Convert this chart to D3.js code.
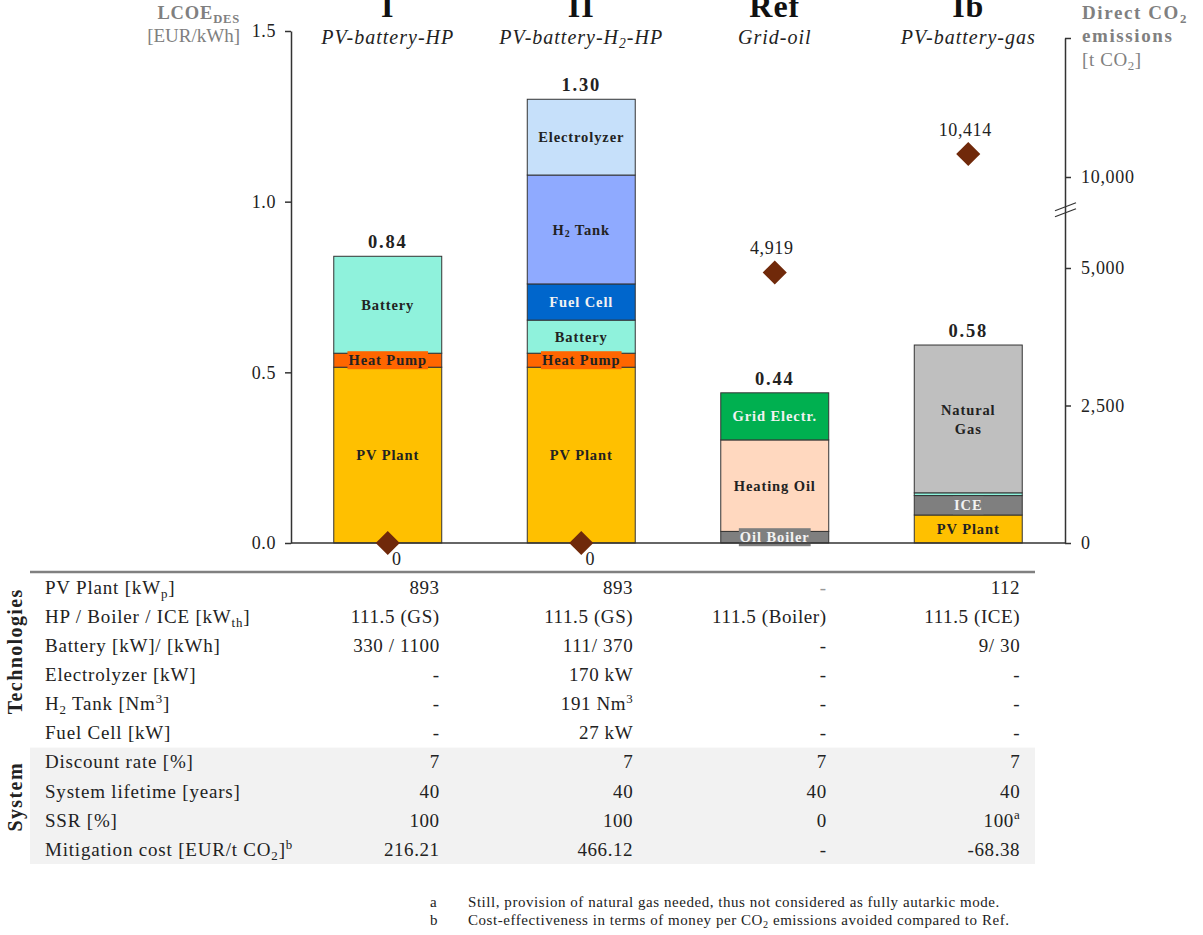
<!DOCTYPE html>
<html>
<head>
<meta charset="utf-8">
<script src="https://cdn.jsdelivr.net/npm/d3@7"></script>
<style>
  html, body { margin: 0; padding: 0; background: #fff; }
  svg { display: block; font-family: "Liberation Serif", "DejaVu Serif", serif; }
</style>
</head>
<body>
<svg id="chart" width="1203" height="935"></svg>
<script>
// ---- Scenarios ----
const scenarios = ["I", "II", "Ref", "Ib"];
const subtitles = ["PV-battery-HP", "PV-battery-H_{2}-HP", "Grid-oil", "PV-battery-gas"];

// ---- LCOE contributions per component [EUR/kWh], one value per scenario ----
const pvPlant      = [0.515, 0.515, 0,     0.082];
const oilBoiler    = [0,     0,     0.034, 0    ];
const heatPump     = [0.041, 0.041, 0,     0    ];
const ice          = [0,     0,     0,     0.057];
const battery      = [0.284, 0.097, 0,     0.008];
const heatingOil   = [0,     0,     0.268, 0    ];
const fuelCell     = [0,     0.106, 0,     0    ];
const h2Tank       = [0,     0.319, 0,     0    ];
const gridElectr   = [0,     0,     0.138, 0    ];
const naturalGas   = [0,     0,     0,     0.433];
const electrolyzer = [0,     0.222, 0,     0    ];

// ---- Direct CO2 emissions [t CO2] ----
const emissions = [0, 0, 4919, 10414];

// ---- Axis ticks ----
const lcoeTicks = [0, 0.5, 1.0, 1.5];
const co2Ticks = [0, 2500, 5000, 10000, 12500];

// ---- Table ----
const rowLabels = [
  "PV Plant [kW_{p}]",
  "HP / Boiler / ICE [kW_{th}]",
  "Battery [kW]/ [kWh]",
  "Electrolyzer [kW]",
  "H_{2} Tank [Nm^{3}]",
  "Fuel Cell [kW]",
  "Discount rate [%]",
  "System lifetime [years]",
  "SSR [%]",
  "Mitigation cost [EUR/t CO_{2}]^{b}"
];
const colI   = ["893", "111.5 (GS)", "330 / 1100", "-", "-", "-", "7", "40", "100", "216.21"];
const colII  = ["893", "111.5 (GS)", "111/ 370", "170 kW", "191 Nm^{3}", "27 kW", "7", "40", "100", "466.12"];
const colRef = ["-", "111.5 (Boiler)", "-", "-", "-", "-", "7", "40", "0", "-"];
const colIb  = ["112", "111.5 (ICE)", "9/ 30", "-", "-", "-", "7", "40", "100^{a}", "-68.38"];
const groups = [
  { name: "Technologies", from: 0, to: 5 },
  { name: "System", from: 6, to: 9 }
];
const footnotes = [
  ["a", "Still, provision of natural gas needed, thus not considered as fully autarkic mode."],
  ["b", "Cost-effectiveness in terms of money per CO_{2} emissions avoided compared to Ref."]
];

// ---- Build stack input ----
const componentKeys = ["PV Plant", "Oil Boiler", "Heat Pump", "ICE", "Battery", "Heating Oil",
                       "Fuel Cell", "H_{2} Tank", "Grid Electr.", "Natural Gas", "Electrolyzer"];
const componentValues = [pvPlant, oilBoiler, heatPump, ice, battery, heatingOil,
                         fuelCell, h2Tank, gridElectr, naturalGas, electrolyzer];
const rows = scenarios.map((s, i) => {
  const r = { scenario: s };
  componentKeys.forEach((k, j) => r[k] = componentValues[j][i]);
  return r;
});

const fill = d3.scaleOrdinal()
  .domain(componentKeys)
  .range(["#ffc000", "#7f7f7f", "#ff6600", "#7f7f7f", "#8ff2dc", "#ffd8bf",
          "#0066cc", "#8faaff", "#00b050", "#bfbfbf", "#c6e0fa"]);
const lightText = new Set(["Oil Boiler", "ICE", "Fuel Cell", "Grid Electr."]);

// ---- Layout ----
const svg = d3.select("#chart");
const xLeft = 291, xRight = 1065;
const x = d3.scaleBand().domain(scenarios).range([xLeft, xRight]).paddingInner(0.442).paddingOuter(0.221);
const y = d3.scaleLinear().domain([0, 1.5]).range([543, 31]);
// Broken right axis: compressed between 5,000 and 10,000
const ey = d3.scaleLinear().domain([0, 5000, 10000, 12500]).range([543, 268, 177, 38]);

const ink = "#333";
const grey = "#808080";

// Rich text helper: _{..} subscript, ^{..} superscript
function rich(sel, str, fs) {
  const parts = str.split(/(_\{[^}]*\}|\^\{[^}]*\})/).filter(s => s.length);
  let shift = 0;
  parts.forEach(p => {
    let target = 0, size = fs, content = p;
    if (p.startsWith("_{")) { target = fs * 0.2; size = fs * 0.68; content = p.slice(2, -1); }
    else if (p.startsWith("^{")) { target = -fs * 0.38; size = fs * 0.68; content = p.slice(2, -1); }
    sel.append("tspan").attr("dy", target - shift).attr("font-size", size).text(content);
    shift = target;
  });
  return sel;
}

// ---- Stacked bars ----
const stacked = d3.stack().keys(componentKeys)(rows);
const barG = svg.append("g");
stacked.forEach(layer => {
  layer.forEach(seg => {
    const h = y(seg[0]) - y(seg[1]);
    if (h <= 0) return;
    barG.append("rect")
      .attr("x", x(seg.data.scenario))
      .attr("y", y(seg[1]))
      .attr("width", x.bandwidth())
      .attr("height", h)
      .attr("fill", fill(layer.key))
      .attr("stroke", ink)
      .attr("stroke-width", 1);
  });
});

// Segment labels
const labelG = svg.append("g");
stacked.forEach(layer => {
  layer.forEach(seg => {
    const h = y(seg[0]) - y(seg[1]);
    if (h < 10) return;
    const cx = x(seg.data.scenario) + x.bandwidth() / 2;
    const cy = (y(seg[0]) + y(seg[1])) / 2;
    const fs = 14.5;
    const g = labelG.append("g");
    const lines = layer.key === "Natural Gas" ? ["Natural", "Gas"] : [layer.key];
    const t = g.append("text")
      .attr("text-anchor", "middle")
      .attr("font-weight", "bold")
      .attr("letter-spacing", 0.9)
      .attr("fill", lightText.has(layer.key) ? "#f2f2f2" : "#222");
    lines.forEach((ln, i) => {
      const tl = t.append("tspan").attr("x", cx)
        .attr("y", cy + fs * 0.35 + (i - (lines.length - 1) / 2) * 19);
      rich(tl, ln, fs);
    });
    if (h < 20) {
      const bb = t.node().getBBox();
      g.insert("rect", "text")
        .attr("x", bb.x - 1).attr("y", cy - 9)
        .attr("width", bb.width + 2).attr("height", 18)
        .attr("fill", fill(layer.key));
    }
  });
});

// Totals above bars
const totals = rows.map(r => d3.sum(componentKeys, k => r[k]));
svg.append("g").selectAll("text").data(scenarios).join("text")
  .attr("x", d => x(d) + x.bandwidth() / 2)
  .attr("y", (d, i) => y(totals[i]) - 8)
  .attr("text-anchor", "middle")
  .attr("font-weight", "bold")
  .attr("font-size", 18.5)
  .attr("letter-spacing", 1.8)
  .attr("fill", "#222")
  .text((d, i) => d3.format(".2f")(totals[i]));

// Baseline
svg.append("line")
  .attr("x1", xLeft).attr("x2", xRight)
  .attr("y1", y(0)).attr("y2", y(0))
  .attr("stroke", ink).attr("stroke-width", 1.5);

// ---- Left axis ----
const leftAxis = svg.append("g").attr("transform", `translate(${xLeft},0)`)
  .call(d3.axisLeft(y).tickValues(lcoeTicks).tickFormat(d3.format(".1f")).tickSize(6).tickSizeOuter(0).tickPadding(9));
leftAxis.select(".domain").attr("stroke", ink).attr("stroke-width", 1.5);
leftAxis.selectAll(".tick line").attr("stroke", ink).attr("stroke-width", 1.5);
leftAxis.selectAll(".tick text").attr("font-size", 18).attr("letter-spacing", 0.6)
  .attr("font-family", "Liberation Serif").attr("fill", "#222");

// ---- Right axis ----
const rightAxis = svg.append("g").attr("transform", `translate(${xRight},0)`)
  .call(d3.axisRight(ey).tickValues(co2Ticks).tickFormat(d => d === 12500 ? "" : d3.format(",")(d)).tickSize(6).tickSizeOuter(0).tickPadding(10));
rightAxis.select(".domain").attr("stroke", ink).attr("stroke-width", 1.5);
rightAxis.selectAll(".tick line").attr("stroke", ink).attr("stroke-width", 1.5);
rightAxis.selectAll(".tick text").attr("font-size", 18).attr("letter-spacing", 0.7)
  .attr("font-family", "Liberation Serif").attr("fill", "#222");
// Axis break marks
const by = ey(8200);
[-3, 3].forEach(o => {
  svg.append("line")
    .attr("x1", xRight - 10).attr("y1", by + o + 4)
    .attr("x2", xRight + 11).attr("y2", by + o - 4)
    .attr("stroke", ink).attr("stroke-width", 1.3);
});

// ---- Emission diamonds ----
const dg = svg.append("g");
scenarios.forEach((s, i) => {
  const cx = x(s) + x.bandwidth() / 2, cy = ey(emissions[i]);
  dg.append("path")
    .attr("d", d3.symbol(d3.symbolSquare, 290)())
    .attr("transform", `translate(${cx},${cy}) rotate(45)`)
    .attr("fill", "#70290a");
  const zero = emissions[i] === 0;
  dg.append("text")
    .attr("x", zero ? cx + 9 : cx - 3)
    .attr("y", zero ? cy + 22 : cy - 18)
    .attr("text-anchor", "middle")
    .attr("font-size", 18)
    .attr("letter-spacing", 0.6)
    .attr("fill", "#222")
    .text(d3.format(",")(emissions[i]));
});

// ---- Column headers ----
scenarios.forEach((s, i) => {
  const cx = x(s) + x.bandwidth() / 2;
  svg.append("text").attr("x", cx).attr("y", 17)
    .attr("text-anchor", "middle").attr("font-weight", "bold").attr("font-size", 32)
    .attr("letter-spacing", 1)
    .attr("fill", "#111").text(s);
  rich(svg.append("text").attr("x", cx).attr("y", 44)
    .attr("text-anchor", "middle").attr("font-style", "italic").attr("letter-spacing", 1)
    .attr("fill", "#222"), subtitles[i], 20);
});

// ---- Axis titles ----
rich(svg.append("text").attr("x", 240).attr("y", 19).attr("text-anchor", "end")
  .attr("font-weight", "bold").attr("letter-spacing", 0.8).attr("fill", grey), "LCOE_{DES}", 18.5);
svg.append("text").attr("x", 240).attr("y", 42).attr("text-anchor", "end")
  .attr("font-size", 19).attr("fill", grey).text("[EUR/kWh]");
rich(svg.append("text").attr("x", 1082).attr("y", 19)
  .attr("font-weight", "bold").attr("letter-spacing", 1.6).attr("fill", grey), "Direct CO_{2}", 19);
svg.append("text").attr("x", 1082).attr("y", 42)
  .attr("font-weight", "bold").attr("font-size", 19).attr("letter-spacing", 1.6)
  .attr("fill", grey).text("emissions");
rich(svg.append("text").attr("x", 1082).attr("y", 66).attr("letter-spacing", 0.6)
  .attr("fill", grey), "[t CO_{2}]", 19);

// ---- Table ----
const tableLeft = 30, tableRight = 1035;
const ry = d3.scaleBand().domain(d3.range(rowLabels.length)).range([573, 864]);
// Shaded system block
svg.append("rect")
  .attr("x", tableLeft).attr("y", ry(6))
  .attr("width", tableRight - tableLeft).attr("height", ry(9) + ry.bandwidth() - ry(6))
  .attr("fill", "#f2f2f2");
svg.append("line")
  .attr("x1", tableLeft).attr("x2", tableRight).attr("y1", 572).attr("y2", 572)
  .attr("stroke", grey).attr("stroke-width", 2.5);

const tfs = 19;
rowLabels.forEach((lbl, r) => {
  const cy = ry(r) + ry.bandwidth() / 2 + tfs * 0.33;
  rich(svg.append("text").attr("x", 45).attr("y", cy).attr("letter-spacing", 0.8)
    .attr("fill", "#222"), lbl, tfs);
});
const columns = [colI, colII, colRef, colIb];
columns.forEach((col, c) => {
  const rx = x(scenarios[c]) + x.bandwidth() - 2;
  col.forEach((v, r) => {
    const cy = ry(r) + ry.bandwidth() / 2 + tfs * 0.33;
    rich(svg.append("text").attr("x", rx).attr("y", cy).attr("text-anchor", "end")
      .attr("letter-spacing", 0.6)
      .attr("fill", v === "-" && r === 0 ? "#999" : "#222"), v, tfs);
  });
});
groups.forEach(gr => {
  const cy = (ry(gr.from) + ry(gr.to) + ry.bandwidth()) / 2 - 9;
  svg.append("text")
    .attr("transform", `translate(22,${cy}) rotate(-90)`)
    .attr("text-anchor", "middle").attr("font-weight", "bold").attr("font-size", 20)
    .attr("letter-spacing", 1.4)
    .attr("fill", "#222").text(gr.name);
});

// ---- Footnotes ----
footnotes.forEach((f, i) => {
  const fy = 907 + i * 18;
  svg.append("text").attr("x", 430).attr("y", fy).attr("font-size", 15).attr("fill", "#222").text(f[0]);
  rich(svg.append("text").attr("x", 468).attr("y", fy).attr("letter-spacing", 0.55)
    .attr("fill", "#222"), f[1], 15);
});
</script>
</body>
</html>
